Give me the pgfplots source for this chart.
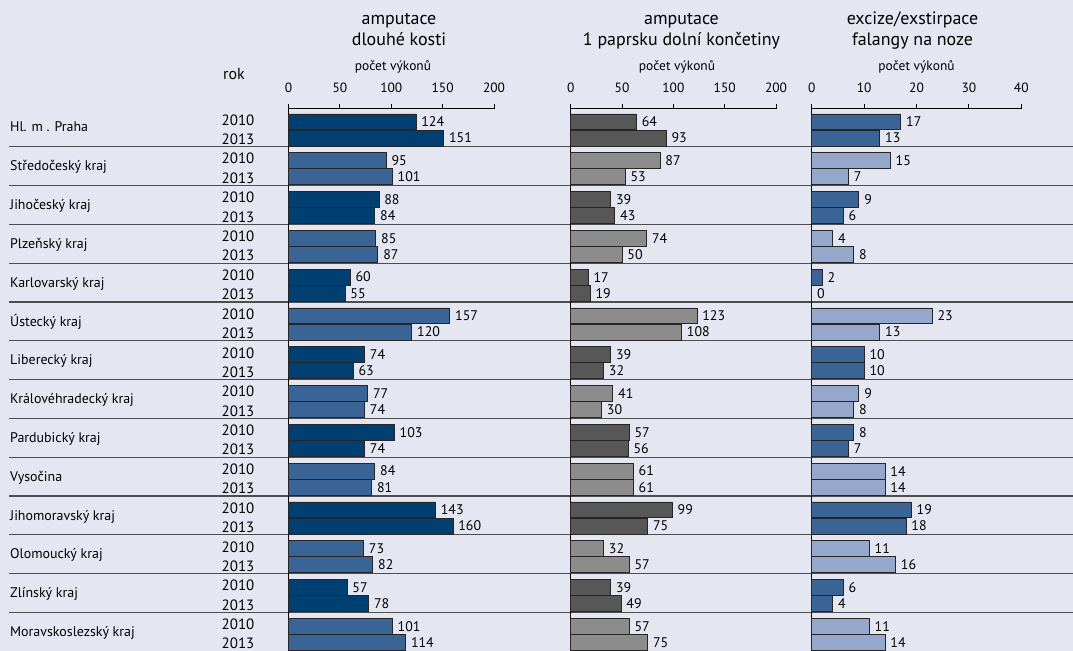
\documentclass[border=0pt]{standalone}
\usepackage{fontspec}
\setmainfont{PT Sans}
\usepackage{pgfplots}
\usepackage{pgfplotstable}
\pgfplotsset{compat=1.18}

\definecolor{bg}{HTML}{E4E7F1}
\definecolor{navy}{HTML}{003F72}
\definecolor{midblue}{HTML}{3A6496}
\definecolor{lightblue}{HTML}{95A8CB}
\definecolor{darkgrey}{HTML}{575757}
\definecolor{lightgrey}{HTML}{8C8C8C}
\definecolor{sepline}{HTML}{4D4D4D}

% r = region row, a = 2010, b = 2013
\pgfplotstableread{
r a b
0 124 151
1 95 101
2 88 84
3 85 87
4 60 55
5 157 120
6 74 63
7 77 74
8 103 74
9 84 81
10 143 160
11 73 82
12 57 78
13 101 114
}\dlouhe

\pgfplotstableread{
r a b
0 64 93
1 87 53
2 39 43
3 74 50
4 17 19
5 123 108
6 39 32
7 41 30
8 57 56
9 61 61
10 99 75
11 32 57
12 39 49
13 57 75
}\paprsek

\pgfplotstableread{
r a b
0 17 13
1 15 7
2 9 6
3 4 8
4 2 0
5 23 13
6 10 10
7 9 8
8 8 7
9 14 14
10 19 18
11 11 16
12 6 4
13 11 14
}\falangy

\pgfplotsset{
  panel/.style={
    scale only axis, height=543.2bp, anchor=north west,
    xmin=0, ymin=-0.5, ymax=13.5, y dir=reverse,
    axis x line*=top, axis y line*=left,
    axis line style={black, line width=1bp},
    ytick=\empty,
    tick align=outside, major tick length=5bp,
    every tick/.style={black, line width=0.9bp},
    xticklabel style={font=\fontsize{13.5}{14}\selectfont, inner sep=0pt, yshift=11bp},
    /pgf/number format/assume math mode=true,
    clip=false,
  },
  b10/.style={xbar, bar width=0.41, bar shift=-0.155, draw=black!85, line width=0.8bp,
    point meta=x, nodes near coords,
    every node near coord/.append style={font=\fontsize{14}{14}\selectfont, anchor=west,
      inner sep=0pt, xshift=5bp, yshift=6bp, text=black}},
  b13/.style={xbar, bar width=0.41, bar shift=0.26, draw=black!85, line width=0.8bp,
    point meta=x, nodes near coords,
    every node near coord/.append style={font=\fontsize{14}{14}\selectfont, anchor=west,
      inner sep=0pt, xshift=5bp, yshift=-10.1bp, text=black}},
  even/.style={restrict expr to domain={mod(\coordindex,2)}{0:0}},
  odd/.style={restrict expr to domain={mod(\coordindex,2)}{1:1}},
}

\begin{document}
\begin{tikzpicture}
\fill[bg] (0,0) rectangle (1073bp,651bp);

% row separators
\foreach \k in {1,...,13}
  \draw[sepline, line width=1.2bp] (9bp,{(543-38.8*\k)*1bp}) -- (1073bp,{(543-38.8*\k)*1bp});

% region names and years
\foreach \n [count=\i from 0] in {Hl. m . Praha, Středočeský kraj, Jihočeský kraj,
  Plzeňský kraj, Karlovarský kraj, Ústecký kraj, Liberecký kraj, Královéhradecký kraj,
  Pardubický kraj, Vysočina, Jihomoravský kraj, Olomoucký kraj, Zlínský kraj,
  Moravskoslezský kraj} {
  \node[anchor=base west, inner sep=0pt, font=\fontsize{14}{14}\selectfont]
    at (10bp,{(543-38.8*(\i+0.5)-4.6)*1bp}) {\n};
  \node[anchor=base east, inner sep=0pt, font=\fontsize{15}{15}\selectfont]
    at (254.5bp,{(543-38.8*(\i+0.5)+2.2)*1bp}) {2010};
  \node[anchor=base east, inner sep=0pt, font=\fontsize{15}{15}\selectfont]
    at (254.5bp,{(543-38.8*(\i+0.5)-17.1)*1bp}) {2013};
}

\node[anchor=base west, inner sep=0pt, font=\fontsize{16}{16}\selectfont] at (223bp,571bp) {rok};

% headers
\begin{scope}[every node/.style={anchor=base, inner sep=0pt}]
\node[font=\fontsize{18}{18}\selectfont] at (399bp,626bp) {amputace};
\node[font=\fontsize{18}{18}\selectfont] at (399bp,605.3bp) {dlouhé kosti};
\node[font=\fontsize{18}{18}\selectfont] at (681.5bp,626bp) {amputace};
\node[font=\fontsize{18}{18}\selectfont] at (681.5bp,605.3bp) {1 paprsku dolní končetiny};
\node[font=\fontsize{18}{18}\selectfont] at (912.5bp,626bp) {excize/exstirpace};
\node[font=\fontsize{18}{18}\selectfont] at (912.5bp,605.3bp) {falangy na noze};
\node[font=\fontsize{13.5}{14}\selectfont] at (393bp,580.5bp) {počet výkonů};
\node[font=\fontsize{13.5}{14}\selectfont] at (677bp,580.5bp) {počet výkonů};
\node[font=\fontsize{13.5}{14}\selectfont] at (916.5bp,580.5bp) {počet výkonů};
\end{scope}

\begin{axis}[panel, at={(288.5bp,542.5bp)}, width=205.5bp, xmax=200, xtick={0,50,100,150,200}]
\addplot[b10, fill=navy, even] table[x=a, y=r] {\dlouhe};
\addplot[b10, fill=midblue, odd] table[x=a, y=r] {\dlouhe};
\addplot[b13, fill=navy, even] table[x=b, y=r] {\dlouhe};
\addplot[b13, fill=midblue, odd] table[x=b, y=r] {\dlouhe};
\end{axis}

\begin{axis}[panel, at={(570.7bp,542.5bp)}, width=205.3bp, xmax=200, xtick={0,50,100,150,200}]
\addplot[b10, fill=darkgrey, even] table[x=a, y=r] {\paprsek};
\addplot[b10, fill=lightgrey, odd] table[x=a, y=r] {\paprsek};
\addplot[b13, fill=darkgrey, even] table[x=b, y=r] {\paprsek};
\addplot[b13, fill=lightgrey, odd] table[x=b, y=r] {\paprsek};
\end{axis}

\begin{axis}[panel, at={(811.7bp,542.5bp)}, width=209.6bp, xmax=40, xtick={0,10,20,30,40}]
\addplot[b10, fill=midblue, even] table[x=a, y=r] {\falangy};
\addplot[b10, fill=lightblue, odd] table[x=a, y=r] {\falangy};
\addplot[b13, fill=midblue, even] table[x=b, y=r] {\falangy};
\addplot[b13, fill=lightblue, odd] table[x=b, y=r] {\falangy};
\end{axis}

\pgfresetboundingbox
\path[use as bounding box] (0,0) rectangle (1073bp,651bp);
\end{tikzpicture}
\end{document}
